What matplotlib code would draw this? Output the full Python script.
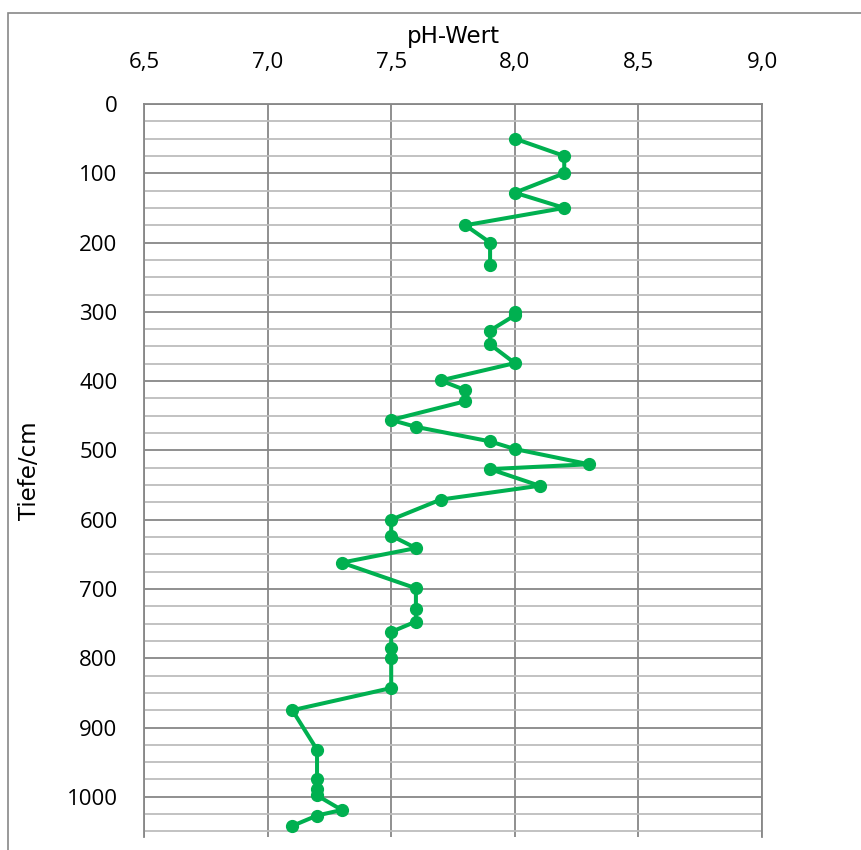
import matplotlib.pyplot as plt
from matplotlib.patches import Rectangle
from matplotlib.ticker import MultipleLocator
import numpy as np

plt.rcParams['font.family'] = ['Open Sans', 'DejaVu Sans']

# pH profile, gap between 233 and 300 cm
depth = [50, 75, 100, 128, 150, 175, 200, 233, np.nan,
         300, 305, 327, 347, 374, 399, 413, 429, 456, 466, 487, 498, 520,
         527, 551, 571, 600, 623, 641, 662, 699, 729, 747, 762, 785, 799,
         843, 875, 932, 975, 988, 998, 1019, 1027, 1042]
ph = [8.0, 8.2, 8.2, 8.0, 8.2, 7.8, 7.9, 7.9, np.nan,
      8.0, 8.0, 7.9, 7.9, 8.0, 7.7, 7.8, 7.8, 7.5, 7.6, 7.9, 8.0, 8.3,
      7.9, 8.1, 7.7, 7.5, 7.5, 7.6, 7.3, 7.6, 7.6, 7.6, 7.5, 7.5, 7.5,
      7.5, 7.1, 7.2, 7.2, 7.2, 7.2, 7.3, 7.2, 7.1]

xticks = [6.5, 7.0, 7.5, 8.0, 8.5, 9.0]
xlabels = ['6,5', '7,0', '7,5', '8,0', '8,5', '9,0']
yticks = list(range(0, 1001, 100))

W, H = 861, 850
fig = plt.figure(figsize=(W/100, H/100), dpi=100)

# outer chart border (cut off at right and bottom)
fig.patches.append(Rectangle((8/W, -0.5), 2.0, 1.5 - 13/H, transform=fig.transFigure,
                             fill=False, edgecolor='#888888', linewidth=1.2))

ax = fig.add_axes([144/W, 1-837/H, (762-144)/W, (837-104)/H])

green = '#00B050'
ax.plot(ph, depth, color=green, lw=2.9, marker='o', ms=8.5, zorder=3)

ax.set_xlim(6.5, 9.0)
ax.set_ylim(1058, 0)
ax.xaxis.tick_top()
ax.set_xticks(xticks)
ax.set_xticklabels(xlabels)
ax.set_yticks(yticks)
ax.yaxis.set_minor_locator(MultipleLocator(25))

ax.grid(which='major', axis='both', color='#878787', lw=1.3)
ax.grid(which='minor', axis='y', color='#BDBDBD', lw=1.3)
ax.set_axisbelow(True)

fs = 16
ax.tick_params(which='both', length=0, labelsize=fs, colors='black')
ax.tick_params(axis='x', pad=22)
ax.tick_params(axis='y', pad=19)

for s in ['left', 'top', 'right']:
    ax.spines[s].set_color('#878787')
    ax.spines[s].set_linewidth(1.3)
ax.spines['bottom'].set_visible(False)

tfont = ['DejaVu Sans']
fig.text(453/W, 1-37/H, 'pH-Wert', ha='center', va='center', fontsize=16.5, family=tfont)
fig.text(30/W, 1-471/H, 'Tiefe/cm', ha='center', va='center', rotation=90,
         fontsize=16.5, family=tfont)

fig.savefig('out.png', dpi=100)
